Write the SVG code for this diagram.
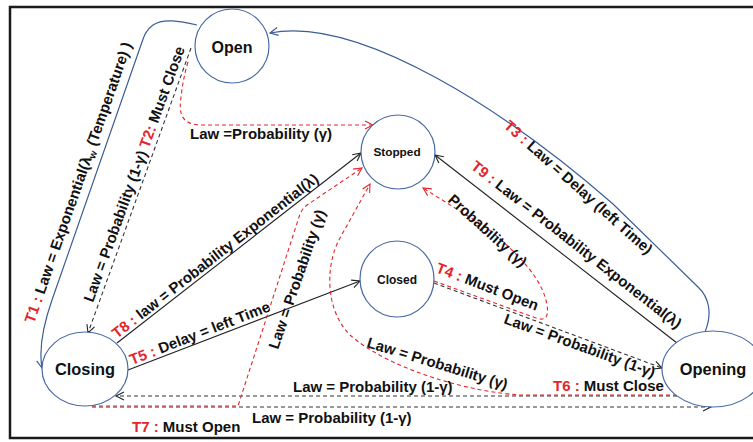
<svg xmlns="http://www.w3.org/2000/svg" width="753" height="442" viewBox="0 0 753 442">
<style>
.nd{fill:#fff;stroke:#4a6aa5;stroke-width:1.2}
.nt{font-family:"Liberation Sans",Arial,sans-serif;font-weight:bold;fill:#111;text-anchor:middle}
.lbl{font-family:"Liberation Sans",Arial,sans-serif;font-weight:bold;font-size:15px;fill:#111}
.r{fill:#e3262b}
.blue{stroke:#3d5d96;fill:none;stroke-width:1.2}
.blk{stroke:#222;fill:none;stroke-width:1.1}
.dash{stroke:#333;stroke-dasharray:4 3;fill:none;stroke-width:1.1}
.rdash{stroke:#e3262b;stroke-dasharray:4 3;fill:none;stroke-width:1.1}
</style>
<defs>
<marker id="aB" markerWidth="12" markerHeight="12" refX="10" refY="6" orient="auto" markerUnits="userSpaceOnUse"><path d="M2,2 L10,6 L2,10" fill="none" stroke="#3d5d96" stroke-width="1.2"/></marker>
<marker id="aK" markerWidth="12" markerHeight="12" refX="10" refY="6" orient="auto" markerUnits="userSpaceOnUse"><path d="M2,2 L10,6 L2,10" fill="none" stroke="#222" stroke-width="1.1"/></marker>
<marker id="aR" markerWidth="12" markerHeight="12" refX="10" refY="6" orient="auto" markerUnits="userSpaceOnUse"><path d="M2,2 L10,6 L2,10" fill="none" stroke="#e3262b" stroke-width="1.1"/></marker>
</defs>
<rect x="0" y="0" width="753" height="442" fill="#fff"/>
<rect x="10" y="7" width="760" height="431" fill="none" stroke="#1a1a1a" stroke-width="2.5"/>

<g id="connectors">
  <!-- T1 Open -> Closing -->
  <path class="blue" d="M197,25 C180,21 163,18 153,25 C146,30 144,36 142,42 L52,300 C45,320 38,345 42,368" marker-end="url(#aB)"/>
  <!-- T2 Open -> Closing -->
  <path class="dash" d="M191,48 L88,333" marker-end="url(#aK)"/>
  <!-- Open -> Stopped -->
  <path class="rdash" d="M188,62 C184,75 182,88 181,97 C179,112 180,124 200,125 L373,125" marker-end="url(#aR)"/>
  <!-- T3 Opening -> Open -->
  <path class="blue" d="M705,332 C712,315 710,298 698,287 L613,204 C510,114 360,15 270,33" marker-end="url(#aB)"/>
  <!-- T9 Opening -> Stopped -->
  <path class="blk" d="M677,343 L435,155" marker-end="url(#aK)"/>
  <!-- T8 Closing -> Stopped -->
  <path class="blk" d="M117,343 L361,153" marker-end="url(#aK)"/>
  <!-- T5 Closing -> Closed -->
  <path class="blk" d="M128,370 L360,281" marker-end="url(#aK)"/>
  <!-- T4 Closed -> Stopped -->
  <path class="rdash" d="M434,281 L536,318 Q550,323 547,305 C543,280 520,255 487,228 L423,188" marker-end="url(#aR)"/>
  <!-- Closed -> Opening -->
  <path class="dash" d="M434,283 L662,368" marker-end="url(#aK)"/>
  <!-- T6 Opening -> Stopped -->
  <path class="rdash" d="M677,395 L520,395 C470,392 390,370 350,335 C325,310 325,265 340,238 L370,184" marker-end="url(#aR)"/>
  <!-- Opening -> Closing -->
  <path class="dash" d="M677,396 L116,396" marker-end="url(#aK)"/>
  <!-- Closing -> Opening -->
  <path class="dash" d="M92,407 L711,407" marker-end="url(#aK)"/>
  <!-- T7 Closing -> Stopped -->
  <path class="rdash" d="M92,406 L238,406 L300,214 Q303,207 310,203 L362,168" marker-end="url(#aR)"/>

  <!-- labels -->
  <text class="lbl" transform="translate(34,324) rotate(-70.7)"><tspan class="r">T1 :</tspan> Law = Exponential(λ<tspan font-size="10" dy="3">w</tspan><tspan dy="-3"> (Temperature) )</tspan></text>
  <text class="lbl" transform="translate(93,303) rotate(-70.1)">Law = Probability (1-γ)  <tspan class="r">T2:</tspan> Must Close</text>
  <text class="lbl" x="190" y="139">Law =Probability (γ)</text>
  <text class="lbl" transform="translate(503,127) rotate(41.7)"><tspan class="r">T3 :</tspan> Law  = Delay (left Time)</text>
  <text class="lbl" transform="translate(470,168) rotate(38)"><tspan class="r">T9 :</tspan> Law = Probability Exponential(λ)</text>
  <text class="lbl" transform="translate(117,339) rotate(-38)"><tspan class="r">T8 :</tspan> law = Probability Exponential(λ)</text>
  <text class="lbl" transform="translate(132,365) rotate(-21.3)"><tspan class="r">T5 :</tspan> Delay = left Time</text>
  <text class="lbl" transform="translate(278,350) rotate(-71)">Law = Probability (γ)</text>
  <text class="lbl" transform="translate(366,347) rotate(17)">Law = Probability (γ)</text>
  <text class="lbl" transform="translate(447,201) rotate(42)">Probability (γ)</text>
  <text class="lbl" transform="translate(435,272) rotate(21)"><tspan class="r">T4 :</tspan> Must Open</text>
  <text class="lbl" transform="translate(503,323) rotate(20)">Law = Probability (1-γ)</text>
  <text class="lbl" x="293" y="392">Law = Probability (1-γ)</text>
  <text class="lbl" x="553" y="391"><tspan class="r">T6 :</tspan> Must Close</text>
  <text class="lbl" x="252" y="423">Law = Probability (1-γ)</text>
  <text class="lbl" x="132" y="432"><tspan class="r">T7 :</tspan> Must Open</text>
</g>

<g id="open"><ellipse class="nd" cx="232" cy="46" rx="37" ry="37"/><text class="nt" x="232" y="52.5" font-size="16">Open</text></g>
<g id="stopped"><ellipse class="nd" cx="398" cy="152" rx="37" ry="37"/><text class="nt" x="397" y="156" font-size="11.8">Stopped</text></g>
<g id="closed"><ellipse class="nd" cx="397" cy="279" rx="37" ry="38"/><text class="nt" x="397" y="284" font-size="12">Closed</text></g>
<g id="closing"><ellipse class="nd" cx="85" cy="369" rx="43" ry="37"/><text class="nt" x="85" y="375" font-size="16.4">Closing</text></g>
<g id="opening"><ellipse class="nd" cx="713" cy="369" rx="51" ry="38"/><text class="nt" x="713" y="375" font-size="16.4">Opening</text></g>
</svg>
